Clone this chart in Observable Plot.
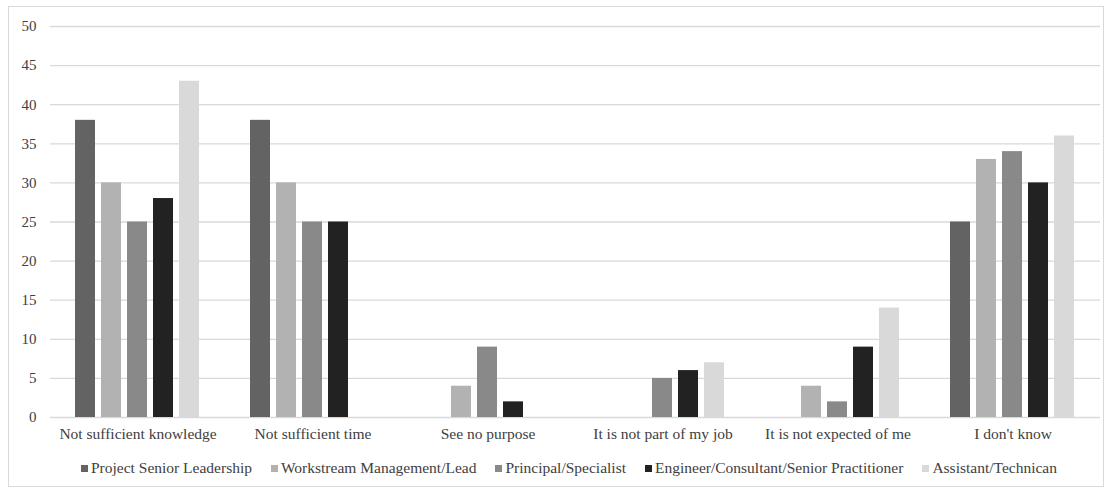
<!DOCTYPE html>
<html>
<head>
<meta charset="utf-8">
<script src="https://cdn.jsdelivr.net/npm/d3@7"></script>
<script src="https://cdn.jsdelivr.net/npm/@observablehq/plot@0.6"></script>
<style>
  html, body { margin: 0; padding: 0; background: #fff; }
  body { width: 1113px; height: 491px; position: relative; overflow: hidden;
         font-family: "Liberation Serif", "Times New Roman", "DejaVu Serif", serif; }
  #frame { position: absolute; left: 8px; top: 6px; width: 1096px; height: 481px;
           border: 1px solid #d9d9d9; box-sizing: border-box; }
  #chart { position: absolute; left: 0; top: 0; }
  #legend { position: absolute; left: 81px; top: 458px; display: flex; align-items: center;
            font-size: 15.5px; line-height: 20px; color: #404040; white-space: nowrap; }
  #legend .item { display: flex; align-items: center; margin-right: 19px; }
  #legend .sw { width: 7px; height: 7px; margin-right: 3px; }
</style>
</head>
<body>
<div id="frame"></div>
<div id="chart"></div>
<div id="legend"></div>
<script>
const categories = [
  "Not sufficient knowledge",
  "Not sufficient time",
  "See no purpose",
  "It is not part of my job",
  "It is not expected of me",
  "I don't know"
];
const series = [
  "Project Senior Leadership",
  "Workstream Management/Lead",
  "Principal/Specialist",
  "Engineer/Consultant/Senior Practitioner",
  "Assistant/Technican"
];
const colors = ["#636363", "#b2b2b2", "#898989", "#222222", "#d9d9d9"];

// One array per role, one value per reason
const projectSeniorLeadership = [38, 38, 0, 0, 0, 25];
const workstreamManagement    = [30, 30, 4, 0, 4, 33];
const principalSpecialist     = [25, 25, 9, 5, 2, 34];
const engineerConsultant      = [28, 25, 2, 6, 9, 30];
const assistantTechnican      = [43, 0, 0, 7, 14, 36];

const yTicks = [0, 5, 10, 15, 20, 25, 30, 35, 40, 45, 50];

const valuesBySeries = [
  projectSeniorLeadership,
  workstreamManagement,
  principalSpecialist,
  engineerConsultant,
  assistantTechnican
];

const rows = [];
categories.forEach((cat, i) => {
  series.forEach((s, j) => {
    rows.push({category: cat, series: s, value: valuesBySeries[j][i]});
  });
});

const serif = "'Liberation Serif', 'Times New Roman', 'DejaVu Serif', serif";

const chart = Plot.plot({
  width: 1113,
  height: 445,
  marginLeft: 48,
  marginRight: 11,
  marginTop: 26,
  marginBottom: 28,
  style: {fontFamily: serif, fontSize: "15px", background: "transparent"},
  fx: {domain: categories, padding: 0, label: null},
  x: {domain: series, paddingInner: 0.222, paddingOuter: 0.865, axis: null},
  y: {domain: [0, 50], ticks: yTicks, label: null},
  color: {domain: series, range: colors},
  marks: [
    Plot.gridY(yTicks, {stroke: "#d9d9d9", strokeOpacity: 1, strokeWidth: 1.3}),
    Plot.axisY(yTicks, {tickSize: 0, tickPadding: 14, fill: "#404040", fontSize: 15, fontFamily: serif, label: null}),
    Plot.axisFx({anchor: "bottom", tickSize: 0, tickPadding: 10, fill: "#404040", fontSize: 15.5, fontFamily: serif, label: null}),
    Plot.barY(rows, {fx: "category", x: "series", y: "value", fill: "series"})
  ]
});
document.getElementById("chart").appendChild(chart);

const legend = document.getElementById("legend");
series.forEach((s, j) => {
  const item = document.createElement("div");
  item.className = "item";
  const sw = document.createElement("span");
  sw.className = "sw";
  sw.style.background = colors[j];
  const label = document.createElement("span");
  label.textContent = s;
  item.appendChild(sw);
  item.appendChild(label);
  legend.appendChild(item);
});
</script>
</body>
</html>
